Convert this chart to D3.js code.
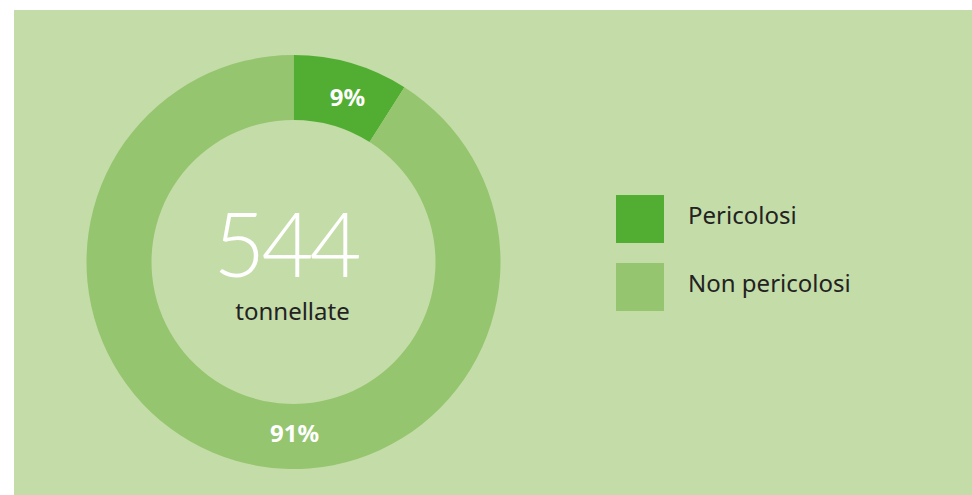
<!DOCTYPE html>
<html>
<head>
<meta charset="utf-8">
<script src="https://cdn.jsdelivr.net/npm/d3@7"></script>
<style>
  body { margin: 0; background: #fff; }
  svg { display: block; }
</style>
</head>
<body>
<script>
// data
const categories = ['Pericolosi', 'Non pericolosi'];
const shares = [9, 91];
const colors = ['#52ae32', '#95c56e'];
const total = '544';
const unit = 'tonnellate';

const draw = () => {
    let w = 972,
        h = 495;

    let svg = d3.select('body')
        .append('svg')
        .attr('width', w)
        .attr('height', h);

    // panel background
    svg.append('rect')
        .attr('x', 14)
        .attr('y', 10)
        .attr('width', w - 14)
        .attr('height', h - 10)
        .attr('fill', '#c4dca8');

    let cx = 293.5,
        cy = 262,
        rOuter = 207,
        rInner = 142,
        rLabel = 172;

    let pie = d3.pie().sort(null).value(d => d);
    let arc = d3.arc().innerRadius(rInner).outerRadius(rOuter);

    let g = svg.append('g')
        .attr('transform', `translate(${cx},${cy})`);

    let arcs = pie(shares);

    g.selectAll('path')
        .data(arcs)
        .enter()
        .append('path')
        .attr('d', arc)
        .attr('fill', (d, i) => colors[i]);

    // big slices get their label at the bottom of the ring
    let labelAngle = d => {
        let mid = (d.startAngle + d.endAngle) / 2;
        return (d.endAngle - d.startAngle) > Math.PI ? Math.PI : mid + 0.03;
    };

    g.selectAll('text.pct')
        .data(arcs)
        .enter()
        .append('text')
        .attr('class', 'pct')
        .attr('x', d => rLabel * Math.sin(labelAngle(d)) + 1)
        .attr('y', d => -rLabel * Math.cos(labelAngle(d)) - 2)
        .attr('text-anchor', 'middle')
        .attr('dominant-baseline', 'central')
        .attr('fill', '#fff')
        .attr('font-family', "'Noto Sans', sans-serif")
        .attr('font-weight', 700)
        .attr('font-size', 24)
        .text(d => d.data + '%');

    // centre total
    g.append('text')
        .attr('x', -8)
        .attr('y', 15)
        .attr('text-anchor', 'middle')
        .attr('fill', '#fff')
        .attr('font-family', "'Lato', sans-serif")
        .attr('font-weight', 300)
        .attr('font-size', 90)
        .attr('letter-spacing', -4)
        .text(total);

    g.append('text')
        .attr('x', -1)
        .attr('y', 58)
        .attr('text-anchor', 'middle')
        .attr('fill', '#222')
        .attr('font-family', "'Noto Sans', sans-serif")
        .attr('font-size', 24)
        .text(unit);

    // legend
    let legend = svg.append('g')
        .attr('transform', 'translate(616,195)');

    let item = legend.selectAll('g')
        .data(categories)
        .enter()
        .append('g')
        .attr('transform', (d, i) => `translate(0,${i * 68})`);

    item.append('rect')
        .attr('width', 48)
        .attr('height', 48)
        .attr('fill', (d, i) => colors[i]);

    item.append('text')
        .attr('x', 72)
        .attr('y', 23)
        .attr('dominant-baseline', 'middle')
        .attr('fill', '#222')
        .attr('font-family', "'Noto Sans', sans-serif")
        .attr('font-size', 24)
        .text(d => d);
}

draw()
</script>
</body>
</html>
